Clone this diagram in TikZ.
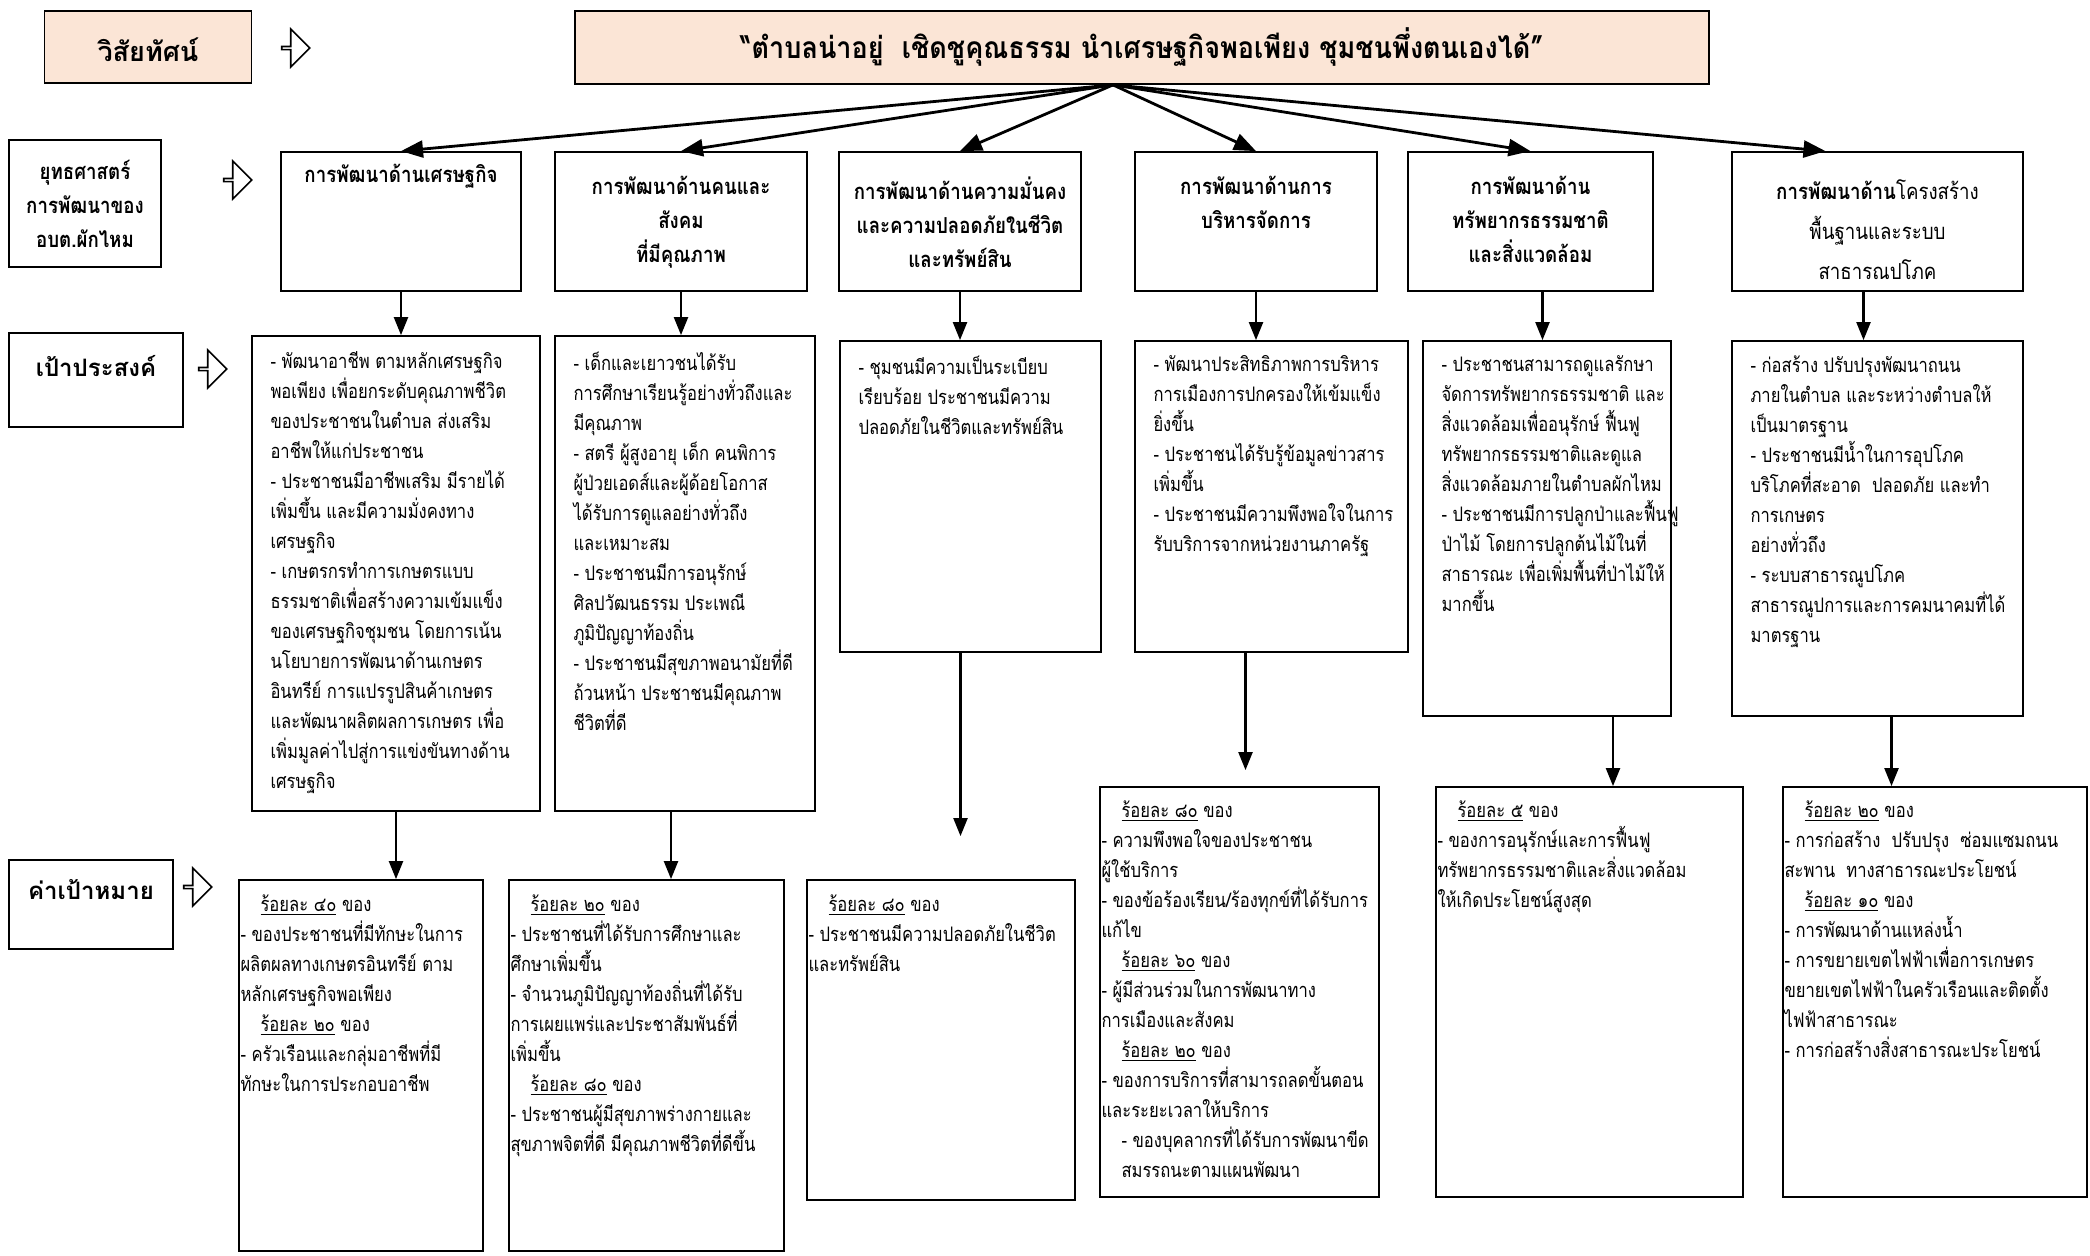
\documentclass[tikz,border=0pt]{standalone}
\usepackage{fontspec}
\setmainfont{Loma}[Script=Thai]
\newfontfamily\bodyfam{Loma}[Script=Thai,FakeStretch=0.83]
\newfontfamily\headfam{Loma}[Script=Thai,FakeStretch=0.85]
\newfontfamily\titlefam{Loma}[Script=Thai,FakeStretch=0.9]
\usetikzlibrary{arrows.meta,shapes.arrows}
\definecolor{peach}{HTML}{FBE5D6}
\newcommand{\bodyfont}{\bodyfam\fontsize{10}{15}\selectfont}
\newcommand{\headfont}{\headfam\bfseries\fontsize{11}{17}\selectfont}
\newcommand{\tagfont}{\bfseries\fontsize{12}{17.5}\selectfont}
\newcommand{\titlefont}{\titlefam\bfseries\fontsize{15}{17}\selectfont}
\newcommand{\pct}[1]{\hspace*{10pt}\underline{ร้อยละ #1} ของ}

\begin{document}
\begin{tikzpicture}[x=0.5pt,y=-0.5pt,
  box/.style={rectangle,draw,line width=0.9pt,inner sep=0pt},
  tag/.style={box,font=\tagfont,align=center},
  hd/.style={font=\headfont,align=center,anchor=north,inner sep=0pt},
  txt/.style={font=\bodyfont,align=left,anchor=north west,inner sep=0pt},
  hollow/.style={single arrow,draw,line width=0.8pt,minimum height=14pt,minimum width=19pt,
    single arrow head extend=4.5pt,inner sep=0pt},
  down/.style={-{Triangle[length=9pt,width=7pt]},line width=1.1pt},
  fan/.style={-{Triangle[length=11pt,width=8.5pt]},line width=1.4pt}]

\useasboundingbox (0,0) rectangle (2090,1255);

% vision
\node at (148,47) [tag,fill=peach,minimum width=103.5pt,minimum height=36pt,
  font=\bfseries\fontsize{13.5}{17}\selectfont,text height=15pt] (vis) {วิสัยทัศน์};
\node at (295,48) [hollow] (visarr) {};
\node at (1142,47.5) [box,fill=peach,minimum width=567pt,minimum height=36.5pt,font=\titlefont] (title)
  {“ตำบลน่าอยู่\ \ เชิดชูคุณธรรม นำเศรษฐกิจพอเพียง ชุมชนพึ่งตนเองได้”};
\coordinate (fan) at ([xshift=-14.5pt]title.south);

% row labels
\node at (85,203.5) [tag,minimum width=76pt,minimum height=63.5pt,font=\headfont] (stra) {ยุทธศาสตร์\\การพัฒนาของ\\อบต.ผักไหม};
\node at (237,180) [hollow] (straarr) {};
\node at (96,380) [tag,minimum width=87pt,minimum height=47pt,text depth=14pt] (goal) {เป้าประสงค์};
\node at (212,369) [hollow] (goalarr) {};
\node at (91,904.5) [tag,minimum width=82pt,minimum height=44.5pt,text depth=15pt] (tgt) {ค่าเป้าหมาย};
\node at (197,887) [hollow] (tgtarr) {};

% strategies
\node at (401,221.5) [box,minimum width=120pt,minimum height=69.5pt] (s1) {};
\node at (681,221.5) [box,minimum width=126pt,minimum height=69.5pt] (s2) {};
\node at (960,221.5) [box,minimum width=121pt,minimum height=69.5pt] (s3) {};
\node at (1256,221.5) [box,minimum width=121pt,minimum height=69.5pt] (s4) {};
\node at (1530.5,221.5) [box,minimum width=122.5pt,minimum height=69.5pt] (s5) {};
\node at (1877.5,221.5) [box,minimum width=145.5pt,minimum height=69.5pt] (s6) {};

\node at ([yshift=-6.5pt]s1.north) [hd] (s1txt) {การพัฒนาด้านเศรษฐกิจ};
\node at ([yshift=-12.5pt]s2.north) [hd] (s2txt) {การพัฒนาด้านคนและ\\สังคม\\ที่มีคุณภาพ};
\node at ([yshift=-12.5pt]s3.north) [hd] (s3txt) {การพัฒนาด้านความมั่นคง\\และความปลอดภัยในชีวิต\\และทรัพย์สิน};
\node at ([yshift=-12.5pt]s4.north) [hd] (s4txt) {การพัฒนาด้านการ\\บริหารจัดการ};
\node at ([yshift=-12.5pt]s5.north) [hd] (s5txt) {การพัฒนาด้าน\\ทรัพยากรธรรมชาติ\\และสิ่งแวดล้อม};
\node at ([yshift=-14pt]s6.north) [hd,font=\headfam\mdseries\fontsize{11}{20}\selectfont] (s6txt)
  {{\bfseries การพัฒนาด้าน}โครงสร้าง\\พื้นฐานและระบบ\\สาธารณปโภค};

% objectives
\node at (396,573.5) [box,minimum width=144pt,minimum height=237.5pt] (o1) {};
\node at (685,573.5) [box,minimum width=130pt,minimum height=237.5pt] (o2) {};
\node at (970.5,496.5) [box,minimum width=130.5pt,minimum height=155.5pt] (o3) {};
\node at (1271.5,496.5) [box,minimum width=136.5pt,minimum height=155.5pt] (o4) {};
\node at (1547,528.5) [box,minimum width=124pt,minimum height=187.5pt] (o5) {};
\node at (1877.5,528.5) [box,minimum width=145.5pt,minimum height=187.5pt] (o6) {};

\node at ([xshift=9.5pt,yshift=-8pt]o1.north west) [txt] (o1txt) {%
- พัฒนาอาชีพ ตามหลักเศรษฐกิจ\\พอเพียง เพื่อยกระดับคุณภาพชีวิต\\ของประชาชนในตำบล ส่งเสริม\\อาชีพให้แก่ประชาชน\\
- ประชาชนมีอาชีพเสริม มีรายได้\\เพิ่มขึ้น และมีความมั่งคงทาง\\เศรษฐกิจ\\
- เกษตรกรทำการเกษตรแบบ\\ธรรมชาติเพื่อสร้างความเข้มแข็ง\\ของเศรษฐกิจชุมชน โดยการเน้น\\นโยบายการพัฒนาด้านเกษตร\\อินทรีย์ การแปรรูปสินค้าเกษตร\\และพัฒนาผลิตผลการเกษตร เพื่อ\\เพิ่มมูลค่าไปสู่การแข่งขันทางด้าน\\เศรษฐกิจ};
\node at ([xshift=9.5pt,yshift=-8pt]o2.north west) [txt] (o2txt) {%
- เด็กและเยาวชนได้รับ\\การศึกษาเรียนรู้อย่างทั่วถึงและ\\มีคุณภาพ\\
- สตรี ผู้สูงอายุ เด็ก คนพิการ\\ผู้ป่วยเอดส์และผู้ด้อยโอกาส\\ได้รับการดูแลอย่างทั่วถึง\\และเหมาะสม\\
- ประชาชนมีการอนุรักษ์\\ศิลปวัฒนธรรม ประเพณี\\ภูมิปัญญาท้องถิ่น\\
- ประชาชนมีสุขภาพอนามัยที่ดี\\ถ้วนหน้า ประชาชนมีคุณภาพ\\ชีวิตที่ดี};
\node at ([xshift=9.5pt,yshift=-7.5pt]o3.north west) [txt] (o3txt) {%
- ชุมชนมีความเป็นระเบียบ\\เรียบร้อย ประชาชนมีความ\\ปลอดภัยในชีวิตและทรัพย์สิน};
\node at ([xshift=9.5pt,yshift=-7.5pt]o4.north west) [txt] (o4txt) {%
- พัฒนาประสิทธิภาพการบริหาร\\การเมืองการปกครองให้เข้มแข็ง\\ยิ่งขึ้น\\
- ประชาชนได้รับรู้ข้อมูลข่าวสาร\\เพิ่มขึ้น\\
- ประชาชนมีความพึงพอใจในการ\\รับบริการจากหน่วยงานภาครัฐ};
\node at ([xshift=9.5pt,yshift=-7.5pt]o5.north west) [txt] (o5txt) {%
- ประชาชนสามารถดูแลรักษา\\จัดการทรัพยากรธรรมชาติ และ\\สิ่งแวดล้อมเพื่ออนุรักษ์ ฟื้นฟู\\ทรัพยากรธรรมชาติและดูแล\\สิ่งแวดล้อมภายในตำบลผักไหม\\
- ประชาชนมีการปลูกป่าและฟื้นฟู\\ป่าไม้ โดยการปลูกต้นไม้ในที่\\สาธารณะ เพื่อเพิ่มพื้นที่ป่าไม้ให้\\มากขึ้น};
\node at ([xshift=9.5pt,yshift=-7.5pt]o6.north west) [txt] (o6txt) {%
- ก่อสร้าง ปรับปรุงพัฒนาถนน\\ภายในตำบล และระหว่างตำบลให้\\เป็นมาตรฐาน\\
- ประชาชนมีน้ำในการอุปโภค\\บริโภคที่สะอาด\ \ ปลอดภัย และทำ\\การเกษตร\\อย่างทั่วถึง\\
- ระบบสาธารณูปโภค\\สาธารณูปการและการคมนาคมที่ได้\\มาตรฐาน};

% targets
\node at (361,1065.5) [box,minimum width=122pt,minimum height=185.5pt] (t1) {};
\node at (646.5,1065.5) [box,minimum width=137.5pt,minimum height=185.5pt] (t2) {};
\node at (941,1040) [box,minimum width=134pt,minimum height=160pt] (t3) {};
\node at (1239.5,992) [box,minimum width=139.5pt,minimum height=205pt] (t4) {};
\node at (1589.5,992) [box,minimum width=153.5pt,minimum height=205pt] (t5) {};
\node at (1935,992) [box,minimum width=152pt,minimum height=205pt] (t6) {};

\node at ([xshift=1pt,yshift=-7.5pt]t1.north west) [txt] (t1txt) {%
\pct{๔๐}\\- ของประชาชนที่มีทักษะในการ\\ผลิตผลทางเกษตรอินทรีย์ ตาม\\หลักเศรษฐกิจพอเพียง\\
\pct{๒๐}\\- ครัวเรือนและกลุ่มอาชีพที่มี\\ทักษะในการประกอบอาชีพ};
\node at ([xshift=1pt,yshift=-7.5pt]t2.north west) [txt] (t2txt) {%
\pct{๒๐}\\- ประชาชนที่ได้รับการศึกษาและ\\ศึกษาเพิ่มขึ้น\\- จำนวนภูมิปัญญาท้องถิ่นที่ได้รับ\\การเผยแพร่และประชาสัมพันธ์ที่\\เพิ่มขึ้น\\
\pct{๘๐}\\- ประชาชนผู้มีสุขภาพร่างกายและ\\สุขภาพจิตที่ดี มีคุณภาพชีวิตที่ดีขึ้น};
\node at ([xshift=1pt,yshift=-7.5pt]t3.north west) [txt] (t3txt) {%
\pct{๘๐}\\- ประชาชนมีความปลอดภัยในชีวิต\\และทรัพย์สิน};
\node at ([xshift=1pt,yshift=-7pt]t4.north west) [txt] (t4txt) {%
\pct{๘๐}\\- ความพึงพอใจของประชาชน\\ผู้ใช้บริการ\\- ของข้อร้องเรียน/ร้องทุกข์ที่ได้รับการ\\แก้ไข\\
\pct{๖๐}\\- ผู้มีส่วนร่วมในการพัฒนาทาง\\การเมืองและสังคม\\
\pct{๒๐}\\- ของการบริการที่สามารถลดขั้นตอน\\และระยะเวลาให้บริการ\\
\hspace*{10pt}- ของบุคลากรที่ได้รับการพัฒนาขีด\\\hspace*{10pt}สมรรถนะตามแผนพัฒนา};
\node at ([xshift=1pt,yshift=-7pt]t5.north west) [txt] (t5txt) {%
\pct{๕}\\- ของการอนุรักษ์และการฟื้นฟู\\ทรัพยากรธรรมชาติและสิ่งแวดล้อม\\ให้เกิดประโยชน์สูงสุด};
\node at ([xshift=1pt,yshift=-7pt]t6.north west) [txt] (t6txt) {%
\pct{๒๐}\\- การก่อสร้าง\ \ ปรับปรุง\ \ ซ่อมแซมถนน\\สะพาน\ \ ทางสาธารณะประโยชน์\\
\pct{๑๐}\\- การพัฒนาด้านแหล่งน้ำ\\- การขยายเขตไฟฟ้าเพื่อการเกษตร\\ขยายเขตไฟฟ้าในครัวเรือนและติดตั้ง\\ไฟฟ้าสาธารณะ\\- การก่อสร้างสิ่งสาธารณะประโยชน์};

% connectors
\draw[fan] (fan)--(s1.north); \draw[fan] (fan)--(s2.north); \draw[fan] (fan)--(s3.north);
\draw[fan] (fan)--(s4.north); \draw[fan] (fan)--(s5.north); \draw[fan] (fan)--([xshift=-26pt]s6.north);

\draw[down] (s1.south)--(s1.south |- o1.north); \draw[down] (s2.south)--(s2.south |- o2.north);
\draw[down] (s3.south)--(s3.south |- o3.north); \draw[down] (s4.south)--(s4.south |- o4.north);
\draw[down] ([xshift=6pt]s5.south)--([xshift=6pt]s5.south |- o5.north);
\draw[down] ([xshift=-7pt]s6.south)--([xshift=-7pt]s6.south |- o6.north);

\draw[down] (o1.south)--(o1.south |- t1.north);
\draw[down] ([xshift=-7pt]o2.south)--([xshift=-7pt]o2.south |- t2.north);
\draw[down,shorten >=21.5pt] ([xshift=-5pt]o3.south)--([xshift=-5pt]o3.south |- t3.north);
\draw[down,shorten >=8pt] ([xshift=-13pt]o4.south)--([xshift=-13pt]o4.south |- t4.north);
\draw[down] ([xshift=33pt]o5.south)--([xshift=33pt]o5.south |- t5.north);
\draw[down] ([xshift=7pt]o6.south)--([xshift=7pt]o6.south |- t6.north);
\end{tikzpicture}
\end{document}
